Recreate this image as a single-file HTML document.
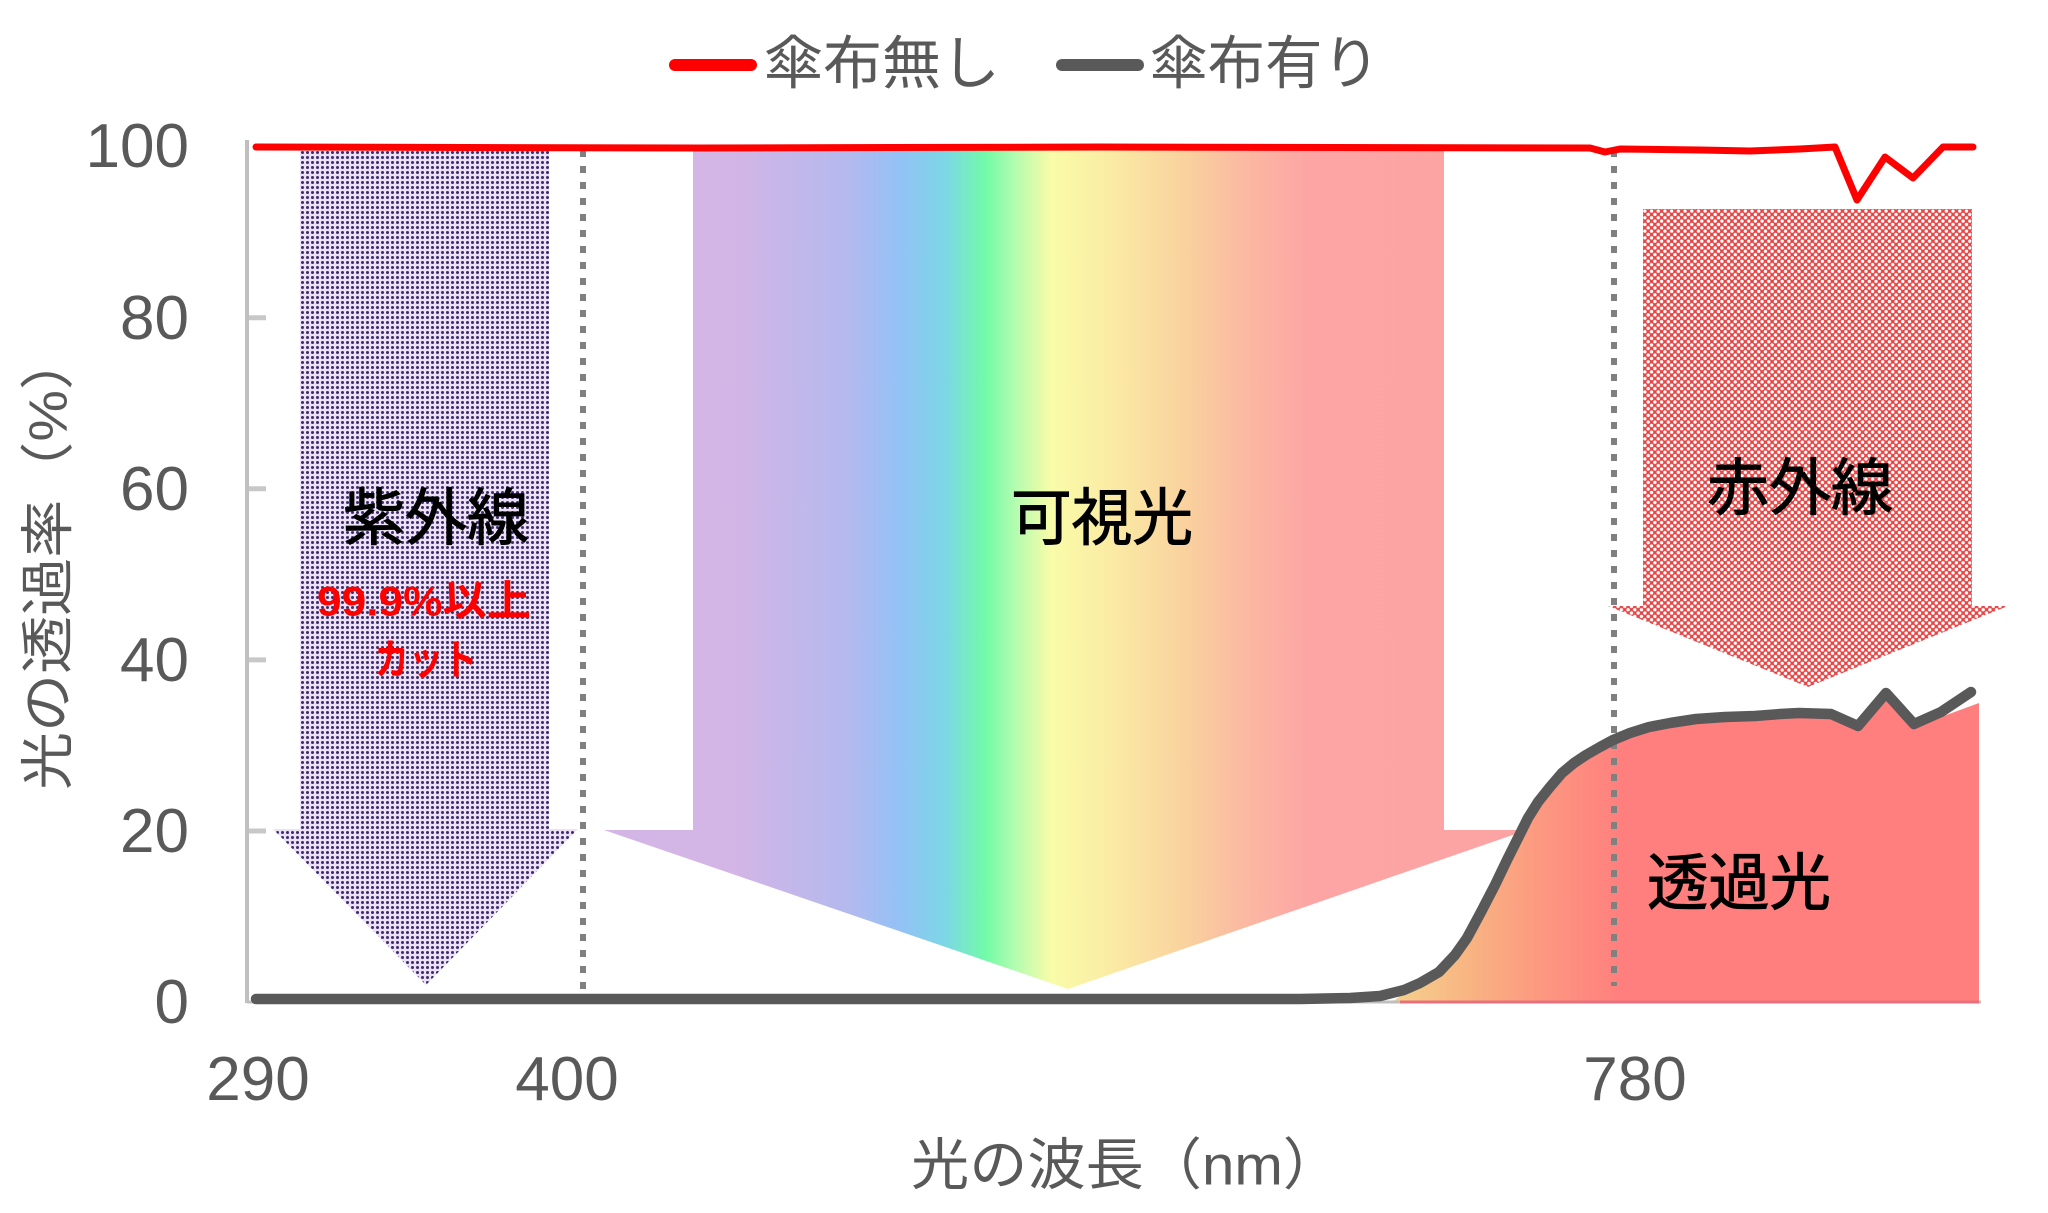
<!DOCTYPE html>
<html><head><meta charset="utf-8">
<style>
html,body{margin:0;padding:0;background:#fff;}
svg{display:block;}
text{font-family:"Liberation Sans","Noto Sans CJK JP",sans-serif;}
</style></head>
<body>
<svg width="2048" height="1213" viewBox="0 0 2048 1213" xmlns="http://www.w3.org/2000/svg">
<defs>
  <pattern id="uvdots" width="5" height="5" patternUnits="userSpaceOnUse">
    <rect width="5" height="5" fill="#ebe1f3"/>
    <circle cx="2.5" cy="2.5" r="1.5" fill="#3c2b70"/>
  </pattern>
  <pattern id="irpat" width="6.7" height="6.7" patternUnits="userSpaceOnUse">
    <rect width="6.7" height="6.7" fill="#e64545"/>
    <circle cx="0" cy="0" r="1.7" fill="#fff"/>
    <circle cx="6.7" cy="0" r="1.7" fill="#fff"/>
    <circle cx="0" cy="6.7" r="1.7" fill="#fff"/>
    <circle cx="6.7" cy="6.7" r="1.7" fill="#fff"/>
    <circle cx="3.35" cy="3.35" r="1.7" fill="#fff"/>
  </pattern>
  <linearGradient id="vis" gradientUnits="userSpaceOnUse" x1="604" y1="0" x2="1527" y2="0">
    <stop offset="0" stop-color="#d4b6e6"/>
    <stop offset="0.14" stop-color="#d3b5e6"/>
    <stop offset="0.265" stop-color="#b4b9ee"/>
    <stop offset="0.319" stop-color="#94c1f6"/>
    <stop offset="0.369" stop-color="#7cd6e6"/>
    <stop offset="0.414" stop-color="#72fba8"/>
    <stop offset="0.447" stop-color="#b6fcb0"/>
    <stop offset="0.485" stop-color="#f9fca8"/>
    <stop offset="0.553" stop-color="#fbeaa4"/>
    <stop offset="0.635" stop-color="#f9d09e"/>
    <stop offset="0.690" stop-color="#fbbaa2"/>
    <stop offset="0.763" stop-color="#fca5a4"/>
    <stop offset="1" stop-color="#fca4a4"/>
  </linearGradient>
  <linearGradient id="trans" gradientUnits="userSpaceOnUse" x1="1385" y1="0" x2="1625" y2="0">
    <stop offset="0" stop-color="#f5d58e"/>
    <stop offset="0.35" stop-color="#f8b482"/>
    <stop offset="0.65" stop-color="#fc9880"/>
    <stop offset="1" stop-color="#ff7e7e"/>
  </linearGradient>
</defs>

<!-- Legend -->
<line x1="675" y1="65" x2="751" y2="65" stroke="#ff0000" stroke-width="12" stroke-linecap="round"/>
<text x="764" y="64" font-size="58" fill="#595959" dominant-baseline="central" textLength="236" lengthAdjust="spacingAndGlyphs">傘布無し</text>
<line x1="1062" y1="65" x2="1138" y2="65" stroke="#595959" stroke-width="12" stroke-linecap="round"/>
<text x="1150" y="64" font-size="58" fill="#595959" dominant-baseline="central" textLength="230" lengthAdjust="spacingAndGlyphs">傘布有り</text>

<!-- Arrows -->
<polygon points="300,151 549,151 549,829 578,829 426,985 273,829 300,829" fill="url(#uvdots)"/>
<polygon points="693,149 1444,149 1444,830 1527,830 1068,989 604,830 693,830" fill="url(#vis)"/>
<polygon points="1643,209 1972,209 1972,606 2008,606 1808,687 1608,606 1643,606" fill="url(#irpat)"/>

<!-- Transmitted light fill -->
<polygon fill="url(#trans)" points="1385,1002 1395,1000 1404,993 1420,986 1439,975 1455,958 1467,941 1481,915 1495,888 1507,863 1518,841 1528,821 1538,805 1550,790 1562,776 1574,766 1586,758 1600,750 1613,743 1630,736 1649,730 1670,726 1696,722 1725,720 1755,719 1780,717 1799,716 1831,718 1858,731 1886,699 1914,729 1941,717 1979,703 1979,1002"/>

<!-- Axes -->
<line x1="247" y1="140" x2="247" y2="1003" stroke="#bfbfbf" stroke-width="4"/>
<line x1="247" y1="1002" x2="1981" y2="1002" stroke="#bfbfbf" stroke-width="3"/>
<line x1="1400" y1="1002" x2="1979" y2="1002" stroke="#e8707c" stroke-width="3"/>
<g stroke="#c8c8c8" stroke-width="5">
  <line x1="249" y1="317.7" x2="266" y2="317.7"/>
  <line x1="249" y1="488.8" x2="266" y2="488.8"/>
  <line x1="249" y1="659.9" x2="266" y2="659.9"/>
  <line x1="249" y1="831" x2="266" y2="831"/>
</g>

<!-- Dotted guide lines -->
<line x1="583" y1="150" x2="583" y2="1000" stroke="#808080" stroke-width="6" stroke-dasharray="7 9"/>
<line x1="1614" y1="150" x2="1614" y2="986" stroke="#808080" stroke-width="6" stroke-dasharray="7 9"/>

<!-- Series: with umbrella (gray) -->
<polyline fill="none" stroke="#595959" stroke-width="10.5" stroke-linejoin="round" stroke-linecap="round"
 points="256,999 800,999 1300,999 1350,998 1380,996 1404,990 1420,983 1439,972 1455,955 1467,938 1481,912 1495,885 1507,860 1518,838 1528,818 1538,802 1550,787 1562,773 1574,763 1586,755 1600,747 1613,740 1630,733 1649,727 1670,723 1696,719 1725,717 1755,716 1780,714 1799,713 1831,714 1858,726 1886,693 1914,724 1941,712 1971,692"/>

<!-- Series: no umbrella (red) -->
<polyline fill="none" stroke="#ff0000" stroke-width="7" stroke-linejoin="round" stroke-linecap="round"
 points="256,147 700,148 1100,147 1590,148 1605,152 1620,149 1700,150 1750,151 1800,149 1835,147 1857,200 1885,157 1913,178 1943,147 1973,147"/>

<!-- Y tick labels -->
<g font-size="62" fill="#595959" text-anchor="end">
  <text x="189" y="167">100</text>
  <text x="189" y="339">80</text>
  <text x="189" y="510">60</text>
  <text x="189" y="681">40</text>
  <text x="189" y="852">20</text>
  <text x="189" y="1023">0</text>
</g>
<!-- X tick labels -->
<g font-size="62" fill="#595959" text-anchor="middle">
  <text x="258" y="1100">290</text>
  <text x="567" y="1100">400</text>
  <text x="1635" y="1100">780</text>
</g>

<!-- Axis titles -->
<text x="911" y="1165" font-size="56" fill="#595959" dominant-baseline="central" textLength="430" lengthAdjust="spacingAndGlyphs">光の波長（nm）</text>
<text transform="translate(48.5,0) rotate(-90)" x="-790" y="0" font-size="54" fill="#595959" dominant-baseline="central" textLength="458" lengthAdjust="spacingAndGlyphs">光の透過率（%）</text>

<!-- Region labels -->
<g font-size="62" fill="#000" stroke="#000" stroke-width="1" dominant-baseline="central" text-anchor="middle">
  <text x="436" y="519" textLength="186" lengthAdjust="spacingAndGlyphs">紫外線</text>
  <text x="1102" y="519" textLength="182" lengthAdjust="spacingAndGlyphs">可視光</text>
  <text x="1800" y="489" textLength="186" lengthAdjust="spacingAndGlyphs">赤外線</text>
  <text x="1739" y="884" textLength="184" lengthAdjust="spacingAndGlyphs">透過光</text>
</g>
<g font-size="42" font-weight="bold" fill="#ff0000" dominant-baseline="central" text-anchor="middle">
  <text x="424" y="601" textLength="214" lengthAdjust="spacingAndGlyphs">99.9%以上</text>
  <text x="426" y="660" textLength="103" lengthAdjust="spacingAndGlyphs">カット</text>
</g>
</svg>
</body></html>
